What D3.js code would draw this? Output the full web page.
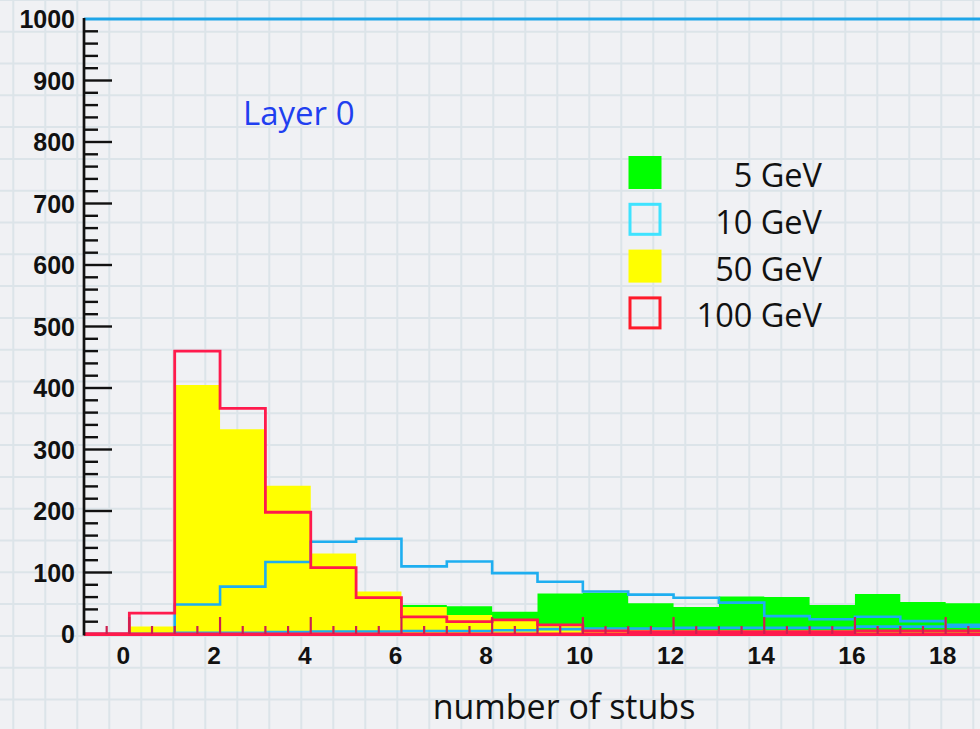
<!DOCTYPE html>
<html>
<head>
<meta charset="utf-8">
<script src="https://cdn.jsdelivr.net/npm/d3@7"></script>
<style>
  html, body { margin: 0; padding: 0; background: #eff0f3; }
  svg { display: block; }
</style>
</head>
<body>
<svg id="chart" width="980" height="729"></svg>
<script>
// Bin lower edges (number of stubs), unit-width bins
const binEdges = [0, 1, 2, 3, 4, 5, 6, 7, 8, 9, 10, 11, 12, 13, 14, 15, 16, 17, 18, 19];

// Entries per bin for each muon energy
const gev5   = [0, 0, 1, 5, 15, 30, 47, 45, 36, 66, 67, 50, 44, 61, 60, 47, 65, 52, 50, 50];
const gev10  = [0, 48, 77, 117, 150, 155, 110, 118, 99, 85, 69, 64, 59, 51, 29, 24, 28, 21, 15, 14];
const gev10b = [0, 2, 2, 3, 4, 4, 5, 5, 6, 8, 9, 9, 10, 10, 10, 10, 12, 12, 12, 12];
const gev50  = [12, 405, 333, 241, 131, 69, 44, 31, 21, 13, 8, 7, 6, 6, 6, 6, 3, 3, 3, 3];
const gev100 = [34, 460, 367, 198, 108, 59, 28, 20, 23, 15, 5, 4, 4, 4, 4, 4, 5, 5, 5, 5];

// Axis ticks and labels
const xLabelValues = [0, 2, 4, 6, 8, 10, 12, 14, 16, 18];
const yLabelValues = [0, 100, 200, 300, 400, 500, 600, 700, 800, 900, 1000];

const legendItems = [
  { label: "5 GeV",   fill: "#00ff00", stroke: null },
  { label: "10 GeV",  fill: "none",    stroke: "#3fe3ff" },
  { label: "50 GeV",  fill: "#ffff00", stroke: null },
  { label: "100 GeV", fill: "none",    stroke: "#ff1a2a" }
];

const W = 980, H = 729;
const svg = d3.select("#chart");

const x = d3.scaleLinear().domain([-1, 20]).range([84, 84 + 21 * 45.35]);
const y = d3.scaleLinear().domain([0, 1000]).range([634, 19]);

// Graph-paper background
const defs = svg.append("defs");
defs.append("filter").attr("id", "soft")
  .append("feGaussianBlur").attr("stdDeviation", 0.7);
svg.append("rect").attr("width", W).attr("height", H).attr("fill", "#f0f1f4");
const grid = svg.append("g").attr("filter", "url(#soft)")
  .attr("stroke", "#dce4e9").attr("stroke-width", 2);
grid.selectAll("line.v").data(d3.range(13.3, W, 32)).join("line")
  .attr("x1", d => d).attr("x2", d => d).attr("y1", 0).attr("y2", H);
grid.selectAll("line.h").data(d3.range(-0.1, H, 31.8)).join("line")
  .attr("y1", d => d).attr("y2", d => d).attr("x1", 0).attr("x2", W);

// Step outline of a histogram: from the left edge of the range along the baseline
function stepPoints(values) {
  const pts = [[-1, 0], [binEdges[0], 0]];
  values.forEach((v, i) => {
    pts.push([binEdges[i], v]);
    pts.push([binEdges[i] + 1, v]);
  });
  pts.push([binEdges[binEdges.length - 1] + 1, 0]);
  return pts;
}
const line = d3.line().x(d => x(d[0])).y(d => y(d[1]));
const area = d3.area().x(d => x(d[0])).y0(y(0)).y1(d => y(d[1]));

const plot = svg.append("g");

// Filled histograms
plot.append("path").datum(stepPoints(gev5)).attr("d", area).attr("fill", "#00ff00");
plot.append("path").datum(stepPoints(gev50)).attr("d", area).attr("fill", "#ffff00");

// Outline histograms
plot.append("path").datum(stepPoints(gev10b)).attr("d", line)
  .attr("fill", "none").attr("stroke", "#1eaef0").attr("stroke-width", 2.6);
plot.append("path").datum(stepPoints(gev10)).attr("d", line)
  .attr("fill", "none").attr("stroke", "#1eaef0").attr("stroke-width", 2.6);
plot.append("path").datum(stepPoints(gev100)).attr("d", line)
  .attr("fill", "none").attr("stroke", "#ff1a4c").attr("stroke-width", 2.8)
  .attr("stroke-linejoin", "miter");
// Heavier baseline along the x axis
svg.append("line")
  .attr("x1", x(-1)).attr("x2", W).attr("y1", y(0) + 0.3).attr("y2", y(0) + 0.3)
  .attr("stroke", "#ff1a4c").attr("stroke-width", 3.6);

// Upper frame line
svg.append("line")
  .attr("x1", x(-1)).attr("x2", W).attr("y1", y(1000)).attr("y2", y(1000))
  .attr("stroke", "#1ea5e8").attr("stroke-width", 2.8);

// X axis ticks (minor every 0.5, major every 2)
const xTicks = d3.range(-0.5, 20.01, 0.5);
svg.append("g").selectAll("line").data(xTicks).join("line")
  .attr("x1", d => x(d)).attr("x2", d => x(d))
  .attr("y1", y(0))
  .attr("y2", d => y(0) - (Math.abs(d % 2) < 1e-6 ? 17 : 8))
  .attr("stroke", "#cc2050").attr("stroke-width", 2.2);

// X tick labels
svg.append("g").selectAll("text").data(xLabelValues).join("text")
  .attr("x", d => x(d) + (String(d).length === 1 ? -6 : -3))
  .attr("y", 664)
  .attr("text-anchor", "middle")
  .attr("font-family", "'Liberation Sans', Arial, sans-serif")
  .attr("font-weight", "bold").attr("font-size", 24.5).attr("fill", "#111")
  .text(d => d);

// Y axis line and ticks (minor every 20, major every 100)
svg.append("line")
  .attr("x1", x(-1)).attr("x2", x(-1)).attr("y1", y(1000) - 1).attr("y2", y(0) + 1.5)
  .attr("stroke", "#111").attr("stroke-width", 2.7);
const yTicks = d3.range(20, 1000, 20);
svg.append("g").selectAll("line").data(yTicks).join("line")
  .attr("x1", x(-1)).attr("y1", d => y(d)).attr("y2", d => y(d))
  .attr("x2", d => x(-1) + (d % 100 === 0 ? 28 : 14))
  .attr("stroke", "#111").attr("stroke-width", 2.4);

svg.append("g").selectAll("text").data(yLabelValues).join("text")
  .attr("x", 75).attr("y", d => y(d))
  .attr("dy", "0.36em")
  .attr("text-anchor", "end")
  .attr("font-family", "'Liberation Sans', Arial, sans-serif")
  .attr("font-weight", "bold").attr("font-size", 25).attr("fill", "#111")
  .text(d => d);

// Axis title
svg.append("text")
  .attr("x", 564).attr("y", 719)
  .attr("text-anchor", "middle")
  .attr("font-family", "'Open Sans', sans-serif")
  .attr("font-size", 34).attr("fill", "#111")
  .text("number of stubs");

// Panel label
svg.append("text")
  .attr("x", 243).attr("y", 125)
  .attr("font-family", "'Open Sans', sans-serif")
  .attr("font-size", 33).attr("fill", "#1f3ff0")
  .text("Layer 0");

// Legend
const leg = svg.append("g").selectAll("g").data(legendItems).join("g")
  .attr("transform", (d, i) => `translate(0, ${i * 46.8})`);
leg.append("rect")
  .attr("x", d => d.stroke ? 630 : 628.5)
  .attr("y", d => d.stroke ? 157.5 : 156)
  .attr("width", d => d.stroke ? 30 : 33)
  .attr("height", d => d.stroke ? 30 : 33)
  .attr("fill", d => d.fill)
  .attr("stroke", d => d.stroke || "none")
  .attr("stroke-width", 3);
leg.append("text")
  .attr("x", 822).attr("y", 187)
  .attr("text-anchor", "end")
  .attr("font-family", "'Open Sans', sans-serif")
  .attr("font-size", 32.5).attr("fill", "#111")
  .text(d => d.label);
</script>
</body>
</html>
